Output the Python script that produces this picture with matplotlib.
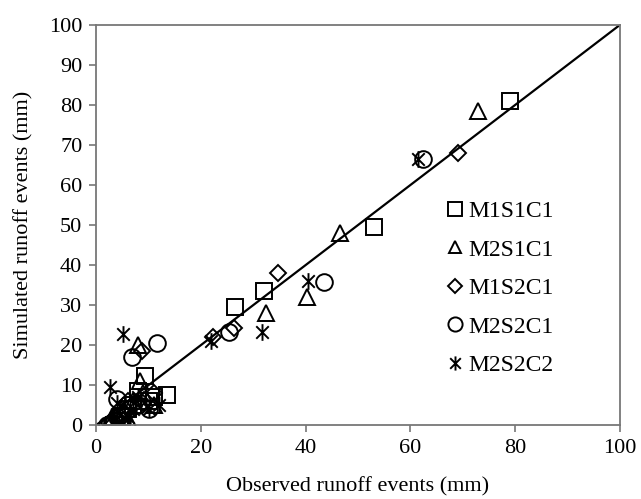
import numpy as np
import matplotlib.pyplot as plt
from matplotlib.path import Path

plt.rcParams['font.family'] = ['Liberation Serif', 'DejaVu Serif']

m1s1c1_obs = [79, 53, 32, 26.5, 13.5, 9.3, 11, 8, 6, 5, 4.5, 7, 10, 3.5]
m1s1c1_sim = [81, 49.5, 33.5, 29.5, 7.5, 12.4, 7, 8.5, 4, 2, 1, 5, 6, 0]

m2s1c1_obs = [73, 46.5, 40.3, 32.5, 8, 8.4, 9, 5, 6, 11, 4, 7, 3]
m2s1c1_sim = [78.5, 48, 32, 28, 20, 11, 8, 3, 1.5, 5, 0.5, 6, 2]

m1s2c1_obs = [69, 34.8, 26.4, 22.3, 8.7, 3, 4, 5.5, 6, 9, 11, 2.5]
m1s2c1_sim = [68, 38, 24.2, 22, 18.6, 0, 1.5, 3, 6, 5.5, 8, 0.5]

m2s2c1_obs = [62.5, 43.5, 25.3, 11.6, 6.8, 3, 4, 5, 6, 8, 4, 10, 2]
m2s2c1_sim = [66.5, 35.8, 23.4, 20.5, 17, 0.5, 2, 1, 4, 5, 6.5, 4, 0]

m2s2c2_obs = [61.5, 40.5, 31.6, 22, 5.2, 2.7, 5, 6, 7, 10, 12, 4, 8, 3.5]
m2s2c2_sim = [66.5, 36, 23.2, 21, 22.8, 9.5, 0, 2, 4, 4, 5, 5.5, 7, 1]

linea = [0, 100]

# marcador asterisco tipo Excel (vertical + X)
ast = Path([(0, -1), (0, 1), (-0.75, -0.75), (0.75, 0.75), (-0.75, 0.75), (0.75, -0.75)],
           [Path.MOVETO, Path.LINETO, Path.MOVETO, Path.LINETO, Path.MOVETO, Path.LINETO])

fig = plt.figure(figsize=(6.41, 4.99), dpi=100)
ax = fig.add_axes([0.150, 0.148, 0.817, 0.802])

kw = dict(linestyle='none', mfc='none', mec='black', mew=1.4)
ax.plot(m1s1c1_obs, m1s1c1_sim, marker='s', ms=12, label='M1S1C1', **kw)
ax.plot(m2s1c1_obs, m2s1c1_sim, marker='^', ms=11, label='M2S1C1', **kw)
ax.plot(m1s2c1_obs, m1s2c1_sim, marker='D', ms=8, label='M1S2C1', **kw)
ax.plot(m2s2c1_obs, m2s2c1_sim, marker='o', ms=12, label='M2S2C1', **kw)
ax.plot(m2s2c2_obs, m2s2c2_sim, marker=ast, ms=12, label='M2S2C2', **kw)
ax.plot(linea, linea, '-k', lw=1.6)

ax.set_xlim(0, 100)
ax.set_ylim(0, 100)
ax.set_xticks(np.arange(0, 101, 20))
ax.set_yticks(np.arange(0, 101, 10))
for s in ax.spines.values():
    s.set_color('#777777')
    s.set_linewidth(1.3)
ax.tick_params(direction='out', length=5, width=1.2, color='#777777', labelsize=16, pad=5)
ax.set_xlabel('Observed runoff events (mm)', fontsize=16, labelpad=14)
ax.set_ylabel('Simulated runoff events (mm)', fontsize=16, labelpad=11)

ax.legend(loc='upper left', bbox_to_anchor=(0.65, 0.585), frameon=False, fontsize=17,
          handlelength=0.8, handletextpad=0.15, labelspacing=0.72, markerscale=0.85,
          borderaxespad=0)

fig.savefig('out.png', dpi=100)
